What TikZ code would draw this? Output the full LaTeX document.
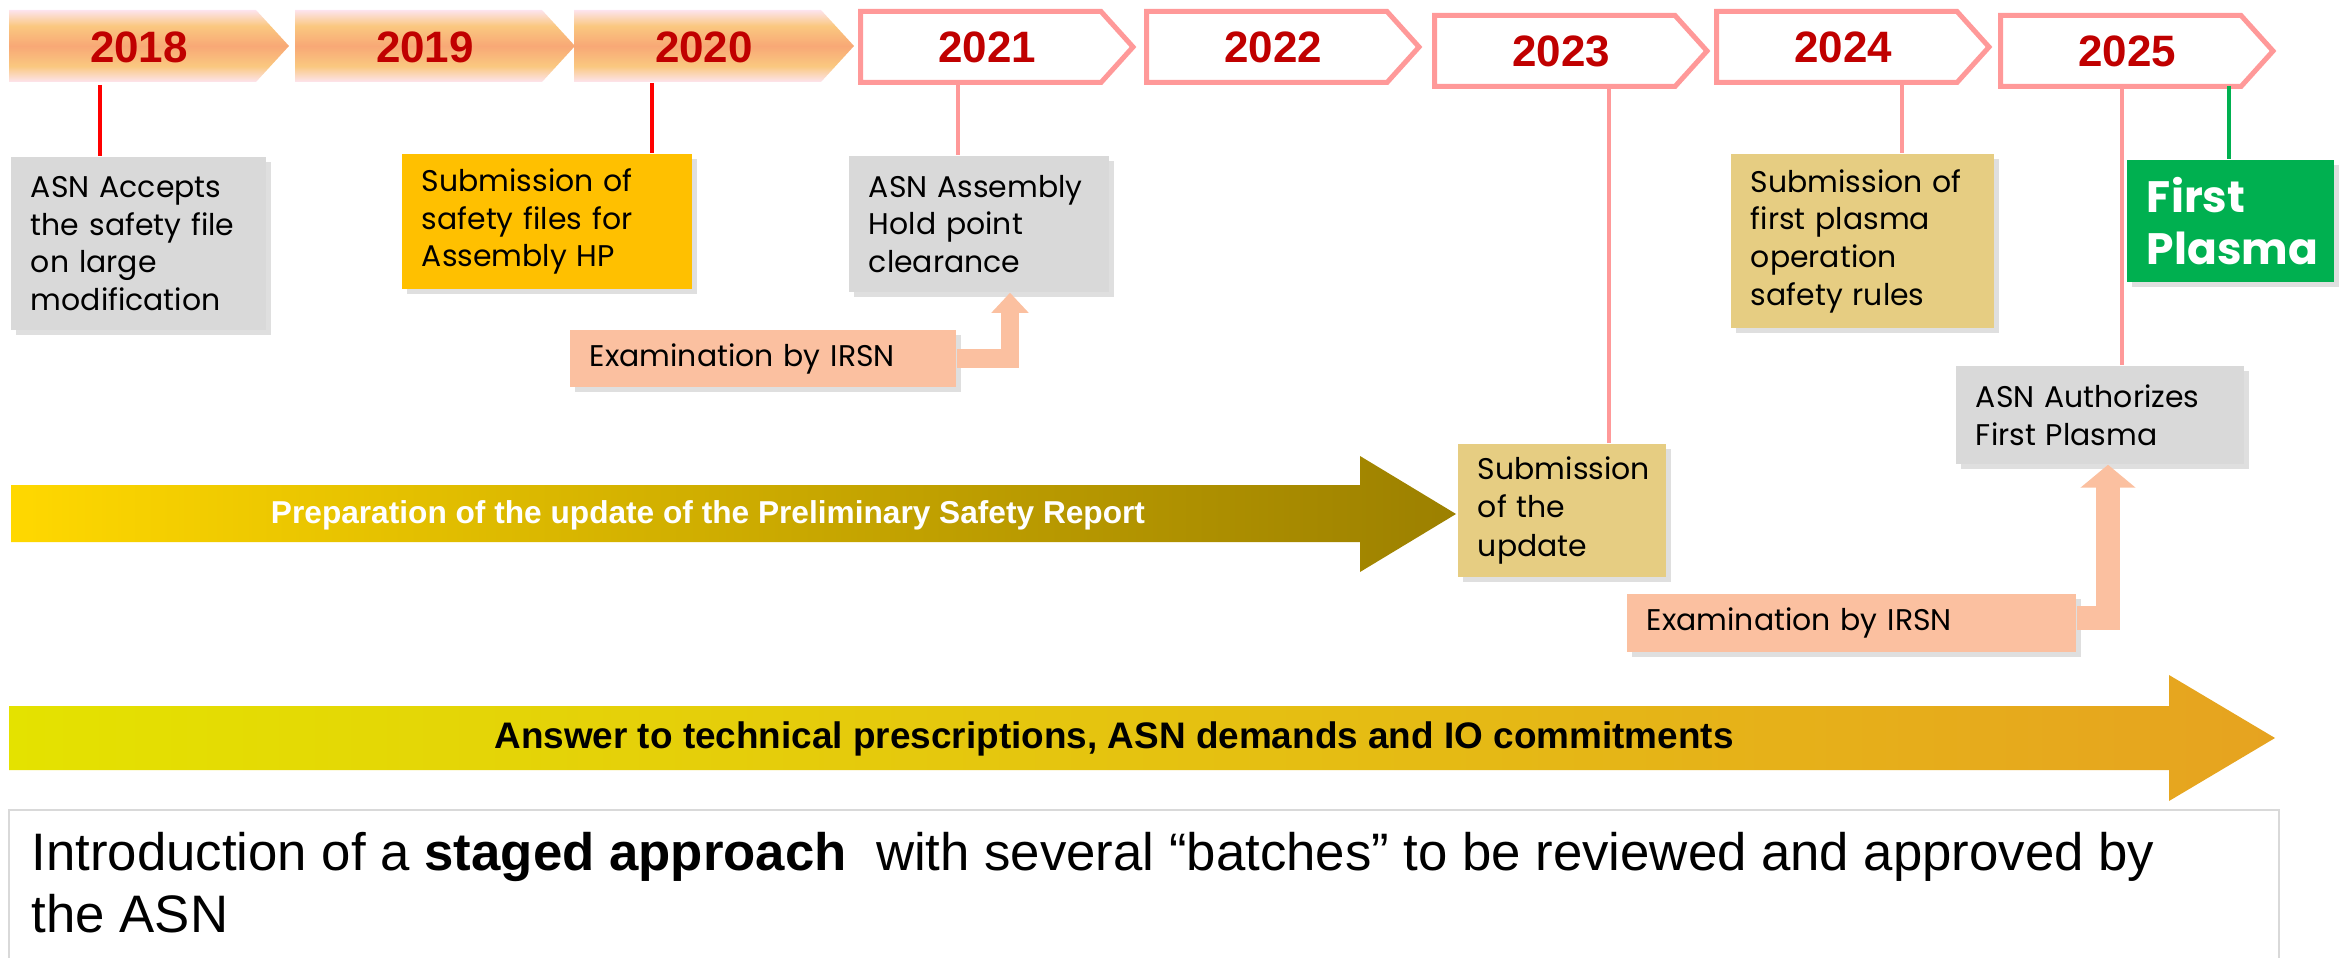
\documentclass[tikz,border=0pt]{standalone}
\usepackage{fontspec}
\setmainfont{Liberation Sans}
\newfontfamily\boxfont{Poppins}
\usetikzlibrary{calc,arrows.meta,shadows}

\definecolor{yearred}{RGB}{192,0,0}
\definecolor{tickred}{RGB}{255,0,0}
\definecolor{tickpink}{RGB}{255,153,153}
\definecolor{boxgray}{RGB}{217,217,217}
\definecolor{boxamber}{RGB}{255,192,0}
\definecolor{boxkhaki}{RGB}{230,205,130}
\definecolor{boxpeach}{RGB}{251,192,160}
\definecolor{fpgreen}{RGB}{0,176,80}
\definecolor{pinkpale}{RGB}{253,228,238}
\definecolor{orangemid}{RGB}{248,168,118}
\definecolor{orangelt}{RGB}{250,200,128}
\definecolor{prepleft}{RGB}{255,216,0}
\definecolor{prepright}{RGB}{156,128,0}
\definecolor{ansleft}{RGB}{228,226,0}
\definecolor{ansright}{RGB}{230,163,32}

% the path box maps onto 25bp..75bp of the shading
\pgfdeclareverticalshading{yearband}{100bp}{color(0bp)=(pinkpale); color(25bp)=(pinkpale); color(36bp)=(orangelt); color(50bp)=(orangemid); color(64bp)=(orangelt); color(75bp)=(pinkpale); color(100bp)=(pinkpale)}

\tikzset{
  yearlbl/.style={font=\bfseries\fontsize{12.5}{14}\selectfont, text=yearred, inner sep=0pt},
  yearline/.style={draw=tickpink, line width=0.05cm, fill=white},
  event/.style={font=\boxfont\fontsize{8.5}{10.7}\selectfont, align=left,
    inner xsep=0.2cm, inner ysep=0pt,
    drop shadow={opacity=0.25, shadow xshift=1.5pt, shadow yshift=-1.5pt}},
  yeartick/.style={line width=0.04cm},
  review/.style={boxpeach, line width=0.18cm, -{Triangle[width=0.36cm,length=0.2cm]}},
}

\begin{document}
\begin{tikzpicture}[x=0.01cm, y=-0.01cm]
\useasboundingbox (0,0) rectangle (2346,958);

% Years already gone
\foreach \yr/\xa in {2018/9,2019/295,2020/574}{
  \shade[shading=yearband] (\xa,10) -- (\xa+247,10) -- (\xa+280,46) -- (\xa+247,82) -- (\xa,82) -- cycle;
  \node[yearlbl] (y\yr) at (\xa+130,47) {\yr};
  \coordinate (b\yr) at (\xa,82);
}

% Years to come
\foreach \yr/\xa/\ya in {2021/858/9,2022/1144/9,2023/1432/13,2024/1714/9,2025/1998/13}{
  \draw[yearline] (\xa+2.5,\ya+2.5) -- (\xa+243,\ya+2.5) -- (\xa+275,\ya+38) -- (\xa+243,\ya+73.5) -- (\xa+2.5,\ya+73.5) -- cycle;
  \node[yearlbl] (y\yr) at (\xa+129,\ya+38) {\yr};
  \coordinate (b\yr) at (\xa,\ya+76);
}

% Milestones
\node[event, fill=boxgray, text width=2.15cm, minimum height=1.73cm] (acc) at (138.5,243.5) {ASN Accepts\\the safety file\\on large\\modification};
\node[event, fill=boxamber, text width=2.5cm, minimum height=1.35cm] (subm) at (547,221.5) {Submission of\\safety files for\\Assembly HP};
\node[event, fill=boxgray, text width=2.2cm, minimum height=1.36cm] (hold) at (979,224) {ASN Assembly\\Hold point\\clearance};
\node[event, fill=boxpeach, text width=3.46cm, minimum height=0.57cm] (exam1) at (763,358.5) {Examination by IRSN};
\node[event, fill=boxkhaki, text width=1.68cm, minimum height=1.33cm, font=\boxfont\fontsize{8.5}{11}\selectfont] (upd) at (1562,510.5) {Submission\\of the\\update};
\node[event, fill=boxkhaki, text width=2.23cm, minimum height=1.74cm] (rules) at (1862.5,241) {Submission of\\first plasma\\operation\\safety rules};
\node[event, fill=fpgreen, text=white, font=\boxfont\bfseries\fontsize{12.5}{14.8}\selectfont, text width=1.67cm, minimum height=1.22cm] (fp) at (2230.5,221) {First\\Plasma};
\node[event, fill=boxgray, text width=2.48cm, minimum height=0.98cm] (auth) at (2100,415) {ASN Authorizes\\First Plasma};
\node[event, fill=boxpeach, text width=4.09cm, minimum height=0.58cm] (exam2) at (1851.5,623) {Examination by IRSN};

% Ticks down from the years
\coordinate (t2018) at ($(b2018)+(91,3)$);
\coordinate (t2020) at ($(b2020)+(78,1)$);
\coordinate (t2021) at ($(b2021)+(100,0)$);
\coordinate (t2023) at ($(b2023)+(177,0)$);
\coordinate (t2024) at ($(b2024)+(188,0)$);
\coordinate (t2025) at ($(b2025)+(124,-3)$);
\coordinate (tfp) at ($(b2025)+(231,-3)$);
\draw[yeartick, tickred] (t2018) -- (t2018 |- acc.north);
\draw[yeartick, tickred] (t2020) -- (t2020 |- subm.north);
\draw[yeartick, tickpink] (t2021) -- (t2021 |- hold.north);
\draw[yeartick, tickpink] (t2023) -- (t2023 |- upd.north);
\draw[yeartick, tickpink] (t2024) -- (t2024 |- rules.north);
\draw[yeartick, tickpink] (t2025) -- (t2025 |- auth.north);
\draw[yeartick, fpgreen] (tfp) -- (tfp |- fp.north);

% IRSN reviews
\coordinate (h1) at ($(hold.south)+(31,0)$);
\coordinate (a1) at ($(auth.south)+(8,0)$);
\draw[review] (exam1.east) -| (h1);
\draw[review, line width=0.24cm, -{Triangle[width=0.54cm,length=0.23cm]}] ($(exam2.east)+(0,-5)$) -| (a1);

% Preliminary Safety Report arrow
\shade[left color=prepleft, right color=prepright] (11,485) -- (1360,485) -- (1360,456) -- (1456,514) -- (1360,572) -- (1360,542) -- (11,542) -- cycle;
\node[font=\bfseries\fontsize{9}{11}\selectfont, text=white] (prep) at (708,515) {Preparation of the update of the Preliminary Safety Report};

% Prescriptions arrow
\shade[left color=ansleft, right color=ansright] (9,706) -- (2169,706) -- (2169,675) -- (2275,738) -- (2169,801) -- (2169,770) -- (9,770) -- cycle;
\node[font=\bfseries\fontsize{10.5}{12}\selectfont] (ans) at (1114,739) {Answer to technical prescriptions, ASN demands and IO commitments};

% Note at the bottom
\draw[black!15, fill=white, line width=0.02cm] (9,962) |- (2279,810) -- (2279,962);
\node[anchor=north west, inner sep=0pt, align=left, font=\fontsize{15}{17.6}\selectfont] (note) at (31,832)
  {Introduction of a \textbf{staged approach}\ \ with several “batches” to be reviewed and approved by\\the ASN};

\end{tikzpicture}
\end{document}
